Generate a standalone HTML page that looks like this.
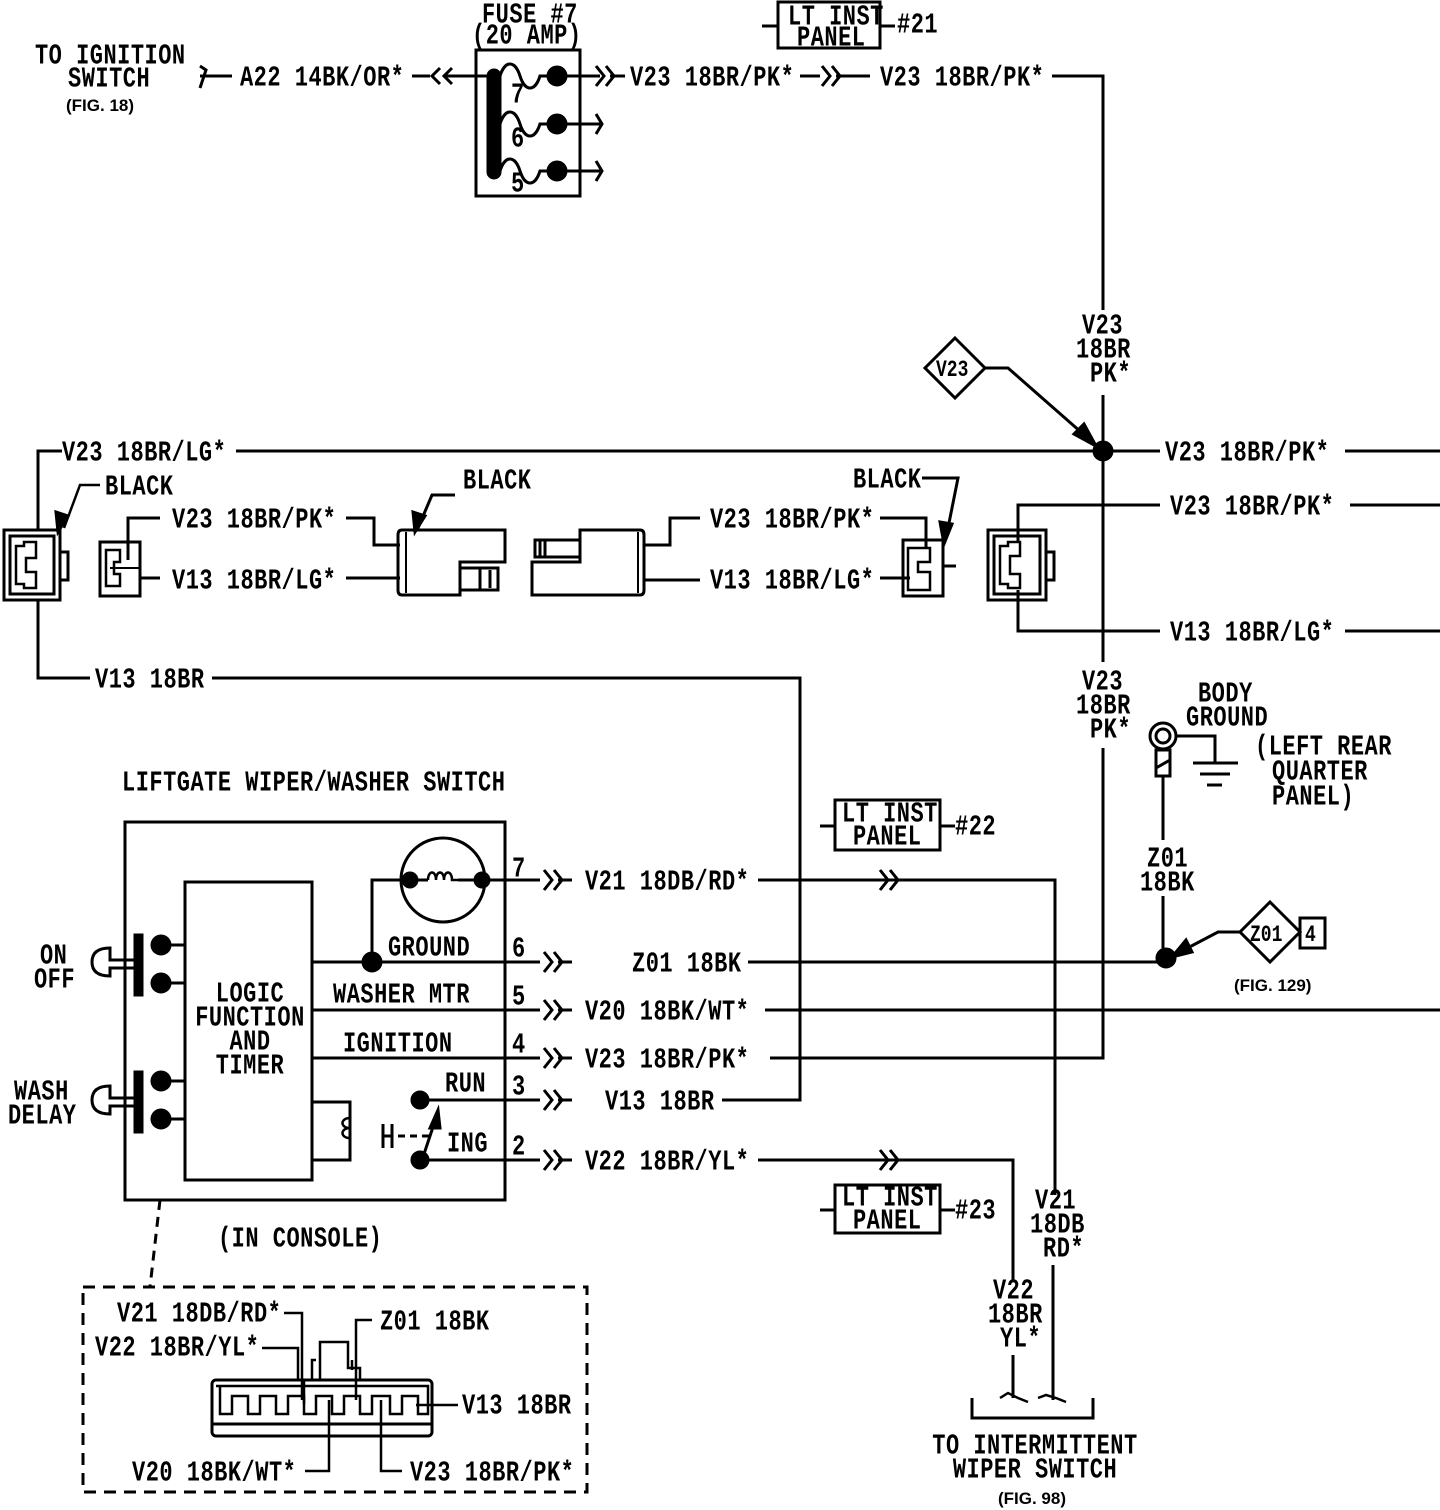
<!DOCTYPE html>
<html><head><meta charset="utf-8"><style>
html,body{margin:0;padding:0;background:#fff;}
svg{display:block}
.t{font-family:"Liberation Mono",monospace;font-weight:bold;font-size:22px;letter-spacing:0.5px;fill:#000;transform:scaleY(1.3);transform-box:fill-box;transform-origin:center;}
.s{font-family:"Liberation Sans",sans-serif;font-weight:bold;font-size:17px;fill:#000;}
line,polyline,path,rect,circle,polygon{stroke:#000;stroke-width:3;fill:none}
.f{fill:#000}
</style></head><body>
<svg width="1440" height="1510" viewBox="0 0 1440 1510" xmlns="http://www.w3.org/2000/svg">
<text class="t" x="35" y="62">TO IGNITION</text>
<text class="t" x="68" y="85">SWITCH</text>
<text class="s" x="66" y="111">(FIG. 18)</text>
<path d="M200,66 L206,70 L200,88 M200,76 L232,76"/>
<text class="t" x="240" y="84">A22 14BK/OR*</text>
<path d="M412,76 L430,76 M440,68 L432,76 L440,84 M452,68 L444,76 L452,84 M444,76 L493,76"/>
<text class="t" x="482" y="21">FUSE #7</text>
<text class="t" x="472" y="42">(20 AMP)</text>
<rect x="476" y="50" width="104" height="146"/>
<rect x="488" y="70" width="12" height="108" rx="6" class="f"/>
<g>
<path d="M500,76 C505,60 515,60 520,76 C525,92 535,92 540,76 L600,76"/>
<circle cx="557" cy="76" r="9" class="f"/>
<path d="M500,124 C505,108 515,108 520,124 C525,140 535,140 540,124 L600,124"/>
<circle cx="557" cy="124" r="9" class="f"/>
<path d="M500,171 C505,155 515,155 520,171 C525,187 535,187 540,171 L600,171"/>
<circle cx="557" cy="171" r="9" class="f"/>
<path d="M596,114 L602,124 L596,134 M596,161 L602,171 L596,181"/>
</g>
<text class="t" x="511" y="101">7</text>
<text class="t" x="511" y="145">6</text>
<text class="t" x="511" y="190">5</text>
<path d="M596,66 L604,76 L596,86 M606,66 L614,76 L606,86 M610,76 L625,76"/>
<text class="t" x="630" y="84">V23 18BR/PK*</text>
<path d="M800,76 L820,76 M822,66 L830,76 L822,86 M832,66 L840,76 L832,86 M836,76 L870,76"/>
<text class="t" x="880" y="84">V23 18BR/PK*</text>
<path d="M1052,76 L1103,76 L1103,310"/>
<path d="M762,26 L778,26 M880,26 L895,26"/>
<rect x="778" y="2" width="102" height="46"/>
<text class="t" x="788" y="23">LT INST</text>
<text class="t" x="797" y="44">PANEL</text>
<text class="t" x="897" y="31">#21</text>
<text class="t" x="1082" y="332">V23</text>
<text class="t" x="1076" y="356">18BR</text>
<text class="t" x="1090" y="380">PK*</text>
<line x1="1103" y1="395" x2="1103" y2="662"/>
<text class="t" x="1082" y="688">V23</text>
<text class="t" x="1076" y="712">18BR</text>
<text class="t" x="1090" y="736">PK*</text>
<path d="M1103,748 L1103,1058 L770,1058"/>
<polygon points="955,338 985,368 955,398 925,368"/>
<text class="t" x="936" y="375" style="font-size:18px;letter-spacing:0">V23</text>
<path d="M985,368 L1008,368 L1090,440"/>
<polygon points="1096,446 1074,434 1084,424" class="f"/>
<circle cx="1103" cy="451" r="9" class="f"/>
<path d="M62,451 L38,451 L38,530"/>
<text class="t" x="62" y="459">V23 18BR/LG*</text>
<line x1="236" y1="451" x2="1160" y2="451"/>
<text class="t" x="1165" y="459">V23 18BR/PK*</text>
<line x1="1345" y1="451" x2="1440" y2="451"/>
<rect x="4" y="530" width="56" height="70"/>
<rect x="10" y="536" width="44" height="58"/>
<path d="M60,552 L68,552 L68,580 L60,580"/>
<path d="M16,546 L24,546 L24,542 L36,542 L36,558 L26,558 L26,572 L36,572 L36,588 L24,588 L24,584 L16,584 Z" style="stroke-width:2.5"/>
<path d="M38,600 L38,678 L90,678"/>
<text class="t" x="95" y="686">V13 18BR</text>
<path d="M212,678 L800,678 L800,1100 L722,1100"/>
<path d="M64,528 L80,485 L100,485" style="stroke-width:2.5"/>
<polygon points="58,532 56,512 68,516" class="f"/>
<text class="t" x="105" y="493">BLACK</text>
<rect x="100" y="542" width="40" height="54"/>
<path d="M106,550 L120,550 L120,562 L114,562 L114,574 L120,574 L120,586 L106,586 Z" style="stroke-width:2.5"/>
<path d="M140,568 L110,568" style="stroke-width:2"/>
<path d="M128,560 L128,518 L160,518"/>
<text class="t" x="172" y="526">V23 18BR/PK*</text>
<path d="M346,518 L374,518 L374,545 L400,545"/>
<path d="M140,578 L160,578"/>
<text class="t" x="172" y="587">V13 18BR/LG*</text>
<path d="M346,578 L400,578"/>
<path d="M402,530 L505,530 L505,562 L460,562 L460,595 L402,595 Q398,595 398,590 L398,535 Q398,530 402,530 Z"/>
<path d="M460,568 L498,568 L498,590 L460,590 M480,568 L480,590 M490,570 L490,588"/>
<path d="M406,532 L406,593" style="stroke-width:2"/>
<path d="M418,528 L432,495 L455,495"/>
<polygon points="415,532 413,512 425,516" class="f"/>
<text class="t" x="463" y="487">BLACK</text>
<path d="M580,530 L640,530 Q644,530 644,535 L644,590 Q644,595 640,595 L532,595 L532,562 L580,562 Z"/>
<path d="M580,540 L535,540 L535,557 L580,557 M545,540 L545,557 M540,540 L540,557"/>
<path d="M638,532 L638,593" style="stroke-width:2"/>
<path d="M644,545 L670,545 L670,518 L700,518"/>
<text class="t" x="710" y="526">V23 18BR/PK*</text>
<path d="M644,580 L700,580"/>
<text class="t" x="710" y="587">V13 18BR/LG*</text>
<path d="M880,518 L926,518 L926,548 M880,578 L910,578"/>
<rect x="903" y="540" width="40" height="56"/>
<path d="M908,548 L930,548 L930,562 L918,562 L918,572 L930,572 L930,590 L908,590 Z" style="stroke-width:2.5"/>
<path d="M943,566 L956,566"/>
<path d="M922,478 L958,478 L946,538"/>
<polygon points="944,544 940,522 952,524" class="f"/>
<text class="t" x="853" y="486">BLACK</text>
<rect x="988" y="530" width="58" height="70"/>
<rect x="994" y="536" width="46" height="58"/>
<path d="M1046,552 L1054,552 L1054,580 L1046,580"/>
<path d="M1000,546 L1008,546 L1008,542 L1020,542 L1020,556 L1010,556 L1010,574 L1020,574 L1020,588 L1008,588 L1008,584 L1000,584 Z" style="stroke-width:2.5"/>
<path d="M1018,542 L1018,505 L1160,505"/>
<text class="t" x="1170" y="513">V23 18BR/PK*</text>
<path d="M1350,505 L1440,505"/>
<path d="M1018,590 L1018,631 L1160,631"/>
<text class="t" x="1170" y="639">V13 18BR/LG*</text>
<path d="M1345,631 L1440,631"/>
<text class="t" x="1198" y="700">BODY</text>
<text class="t" x="1186" y="724">GROUND</text>
<circle cx="1163" cy="736" r="13"/>
<circle cx="1163" cy="736" r="7"/>
<rect x="1156" y="750" width="14" height="26"/>
<line x1="1156" y1="768" x2="1170" y2="760"/>
<path d="M1176,736 L1215,736 L1215,762"/>
<path d="M1193,763 L1238,763 M1200,774 L1230,774 M1207,785 L1222,785"/>
<text class="t" x="1255" y="753">(LEFT REAR</text>
<text class="t" x="1272" y="778">QUARTER</text>
<text class="t" x="1272" y="803">PANEL)</text>
<line x1="1163" y1="776" x2="1163" y2="840"/>
<text class="t" x="1147" y="865">Z01</text>
<text class="t" x="1140" y="889">18BK</text>
<line x1="1163" y1="896" x2="1163" y2="958"/>
<circle cx="1166" cy="958" r="9" class="f"/>
<polygon points="1270,902 1300,932 1270,962 1240,932"/>
<rect x="1300" y="918" width="25" height="30"/>
<text class="t" x="1250" y="940" style="font-size:18px;letter-spacing:0">Z01</text>
<text class="t" x="1305" y="940" style="font-size:18px">4</text>
<path d="M1240,932 L1218,932 L1180,952"/>
<polygon points="1172,957 1186,940 1192,952" class="f"/>
<text class="s" x="1234" y="991">(FIG. 129)</text>
<path d="M820,826 L835,826 M940,826 L955,826"/>
<rect x="835" y="800" width="105" height="50"/>
<text class="t" x="842" y="820">LT INST</text>
<text class="t" x="853" y="843">PANEL</text>
<text class="t" x="955" y="833">#22</text>
<text class="t" x="122" y="789">LIFTGATE WIPER/WASHER SWITCH</text>
<rect x="125" y="822" width="380" height="378"/>
<rect x="185" y="882" width="127" height="298"/>
<text class="t" x="250" y="1000" text-anchor="middle">LOGIC</text>
<text class="t" x="250" y="1024" text-anchor="middle">FUNCTION</text>
<text class="t" x="250" y="1048" text-anchor="middle">AND</text>
<text class="t" x="250" y="1072" text-anchor="middle">TIMER</text>
<rect x="135" y="935" width="7" height="60" class="f"/>
<rect x="135" y="1072" width="7" height="60" class="f"/>
<circle cx="161" cy="945" r="9" class="f"/><circle cx="161" cy="983" r="9" class="f"/>
<circle cx="161" cy="1081" r="9" class="f"/><circle cx="161" cy="1119" r="9" class="f"/>
<path d="M170,945 L185,945 M170,983 L185,983 M170,1081 L185,1081 M170,1119 L185,1119"/>
<path d="M135,960 L110,960 L110,948 Q92,948 92,962 Q92,976 110,976 L110,968 L135,968"/>
<path d="M135,1098 L110,1098 L110,1086 Q92,1086 92,1100 Q92,1114 110,1114 L110,1106 L135,1106"/>
<text class="t" x="40" y="962">ON</text>
<text class="t" x="34" y="986">OFF</text>
<text class="t" x="14" y="1098">WASH</text>
<text class="t" x="8" y="1122">DELAY</text>
<circle cx="443" cy="880" r="42"/>
<circle cx="410" cy="880" r="7" class="f"/><circle cx="482" cy="880" r="7" class="f"/>
<path d="M372,962 L372,880 L428,880 M458,880 L540,880"/>
<path d="M428,880 C428,870 436,870 436,880 C436,870 444,870 444,880 C444,870 452,870 452,880 L458,880" style="stroke-width:2.5"/>
<circle cx="372" cy="962" r="9" class="f"/>
<text class="t" x="388" y="954">GROUND</text>
<text class="t" x="333" y="1001">WASHER MTR</text>
<text class="t" x="343" y="1050">IGNITION</text>
<text class="t" x="445" y="1090">RUN</text>
<text class="t" x="447" y="1150">ING</text>
<path d="M312,962 L540,962 M312,1010 L540,1010 M312,1058 L540,1058"/>
<path d="M312,1102 L350,1102 L350,1160 L312,1160"/>
<path d="M350,1118 C340,1118 340,1128 350,1128 C340,1128 340,1138 350,1138" style="stroke-width:2.5"/>
<path d="M383,1124 L383,1148 M392,1124 L392,1148 M383,1136 L392,1136"/>
<path d="M398,1136 L430,1136" style="stroke-dasharray:7 5"/>
<circle cx="420" cy="1100" r="8" class="f"/><circle cx="420" cy="1160" r="8" class="f"/>
<path d="M420,1100 L540,1100 M420,1160 L540,1160 M422,1160 L436,1118"/>
<polygon points="438,1110 430,1128 440,1128" class="f"/>
<g>
<text class="t" x="512" y="875">7</text><text class="t" x="512" y="955">6</text>
<text class="t" x="512" y="1003">5</text><text class="t" x="512" y="1051">4</text>
<text class="t" x="512" y="1093">3</text><text class="t" x="512" y="1153">2</text>
</g>
<g>
<path d="M544,870 L552,880 L544,890 M554,870 L562,880 L554,890 M558,880 L572,880"/>
<path d="M544,952 L552,962 L544,972 M554,952 L562,962 L554,972 M558,962 L572,962"/>
<path d="M544,1000 L552,1010 L544,1020 M554,1000 L562,1010 L554,1020 M558,1010 L572,1010"/>
<path d="M544,1048 L552,1058 L544,1068 M554,1048 L562,1058 L554,1068 M558,1058 L572,1058"/>
<path d="M544,1090 L552,1100 L544,1110 M554,1090 L562,1100 L554,1110 M558,1100 L572,1100"/>
<path d="M544,1150 L552,1160 L544,1170 M554,1150 L562,1160 L554,1170 M558,1160 L572,1160"/>
</g>
<text class="t" x="585" y="888">V21 18DB/RD*</text>
<text class="t" x="632" y="970">Z01 18BK</text>
<text class="t" x="585" y="1018">V20 18BK/WT*</text>
<text class="t" x="585" y="1066">V23 18BR/PK*</text>
<text class="t" x="605" y="1108">V13 18BR</text>
<text class="t" x="585" y="1168">V22 18BR/YL*</text>
<path d="M758,880 L1055,880 L1055,1195 M880,870 L888,880 L880,890 M890,870 L898,880 L890,890"/>
<path d="M748,962 L1166,962"/>
<path d="M765,1010 L1440,1010"/>
<path d="M758,1160 L1013,1160 L1013,1280 M880,1150 L888,1160 L880,1170 M890,1150 L898,1160 L890,1170"/>
<path d="M820,1210 L835,1210 M940,1210 L955,1210"/>
<rect x="835" y="1185" width="105" height="48"/>
<text class="t" x="842" y="1204">LT INST</text>
<text class="t" x="853" y="1227">PANEL</text>
<text class="t" x="955" y="1217">#23</text>
<text class="t" x="1035" y="1207">V21</text>
<text class="t" x="1030" y="1231">18DB</text>
<text class="t" x="1043" y="1255">RD*</text>
<line x1="1053" y1="1265" x2="1053" y2="1400"/>
<text class="t" x="993" y="1297">V22</text>
<text class="t" x="988" y="1321">18BR</text>
<text class="t" x="1000" y="1345">YL*</text>
<line x1="1013" y1="1355" x2="1013" y2="1398"/>
<path d="M1000,1398 L1008,1393 L1018,1398 L1028,1402 M1038,1398 L1046,1395 L1056,1398 L1066,1402" style="stroke-width:2.5"/>
<path d="M972,1398 L972,1418 L1093,1418 L1093,1398"/>
<text class="t" x="1035" y="1452" text-anchor="middle">TO INTERMITTENT</text>
<text class="t" x="1035" y="1476" text-anchor="middle">WIPER SWITCH</text>
<text class="s" x="1032" y="1504" text-anchor="middle">(FIG. 98)</text>
<text class="t" x="218" y="1245">(IN CONSOLE)</text>
<line x1="160" y1="1200" x2="150" y2="1287" style="stroke-dasharray:10 7"/>
<rect x="83" y="1287" width="504" height="205" style="stroke-dasharray:12 8"/>
<rect x="212" y="1380" width="220" height="56" rx="4"/>
<line x1="212" y1="1424" x2="432" y2="1424"/>
<path d="M216,1386 L428,1386 L428,1414 L418,1414 L418,1396 L402,1396 L402,1414 L390,1414 L390,1396 L372,1396 L372,1414 L360,1414 L360,1396 L344,1396 L344,1414 L332,1414 L332,1396 L316,1396 L316,1414 L304,1414 L304,1396 L288,1396 L288,1414 L276,1414 L276,1396 L260,1396 L260,1414 L248,1414 L248,1396 L232,1396 L232,1414 L220,1414 L220,1386" style="stroke-width:2.5"/>
<path d="M298,1380 L298,1348 L262,1348 M304,1404 L304,1380" style="stroke-width:2.5"/>
<path d="M320,1380 L320,1342 L348,1342 L348,1368 L360,1368 L360,1380" style="stroke-width:2.5"/>
<path d="M312,1380 L312,1360 L316,1360 M352,1370 L352,1360" style="stroke-width:2.5"/>
<text class="t" x="95" y="1354">V22 18BR/YL*</text>
<path d="M284,1313 L302,1313 L302,1400" style="stroke-width:2.5"/>
<text class="t" x="117" y="1320">V21 18DB/RD*</text>
<path d="M356,1400 L356,1320 L372,1320" style="stroke-width:2.5"/>
<text class="t" x="380" y="1328">Z01 18BK</text>
<path d="M416,1405 L458,1405" style="stroke-width:2.5"/>
<text class="t" x="462" y="1412">V13 18BR</text>
<path d="M329,1400 L329,1471 L305,1471" style="stroke-width:2.5"/>
<text class="t" x="132" y="1479">V20 18BK/WT*</text>
<path d="M381,1400 L381,1471 L402,1471" style="stroke-width:2.5"/>
<text class="t" x="410" y="1479">V23 18BR/PK*</text>
</svg>
</body></html>
